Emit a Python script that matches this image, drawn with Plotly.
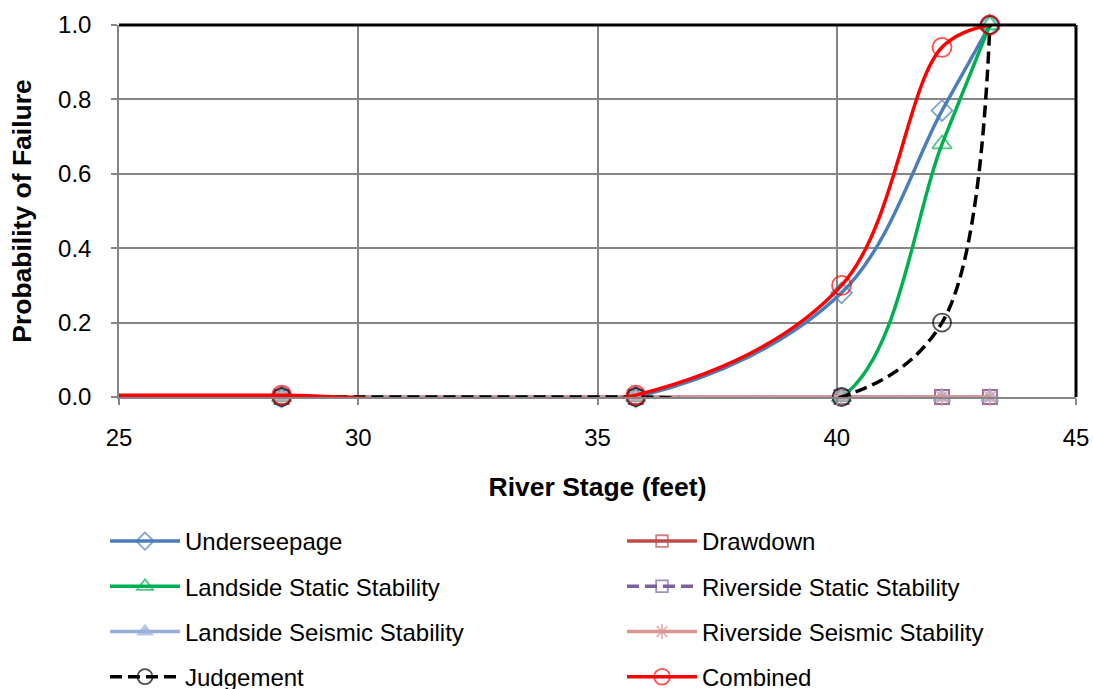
import plotly.graph_objects as go

# ---- data ----
river_stage = [22.0, 28.4, 35.8, 40.1, 42.2, 43.2]
underseepage = [0.0, 0.0, 0.0, 0.28, 0.77, 1.0]
drawdown = [0.0, 0.0, 0.0, 0.0, 0.0, 0.0]
landside_static = [0.0, 0.0, 0.0, 0.0, 0.68, 1.0]
riverside_static = [0.0, 0.0, 0.0, 0.0, 0.0, 0.0]
landside_seismic = [0.0, 0.0, 0.0, 0.0, 0.0, 0.0]
riverside_seismic = [0.0, 0.0, 0.0, 0.0, 0.0, 0.0]
judgement = [0.0, 0.0, 0.0, 0.0, 0.20, 1.0]
combined = [0.005, 0.005, 0.005, 0.30, 0.94, 1.0]

x_ticks = [25, 30, 35, 40, 45]
y_ticks = [0.0, 0.2, 0.4, 0.6, 0.8, 1.0]

FONT = "Liberation Sans, Arial, sans-serif"

series = [
    ("Underseepage", underseepage, "#4A7EBB", "solid", "diamond-open", "legend", 16),
    ("Drawdown", drawdown, "#BE4B48", "solid", "square-open", "legend2", 14),
    ("Landside Static Stability", landside_static, "#00B050", "solid", "triangle-up-open", "legend", 17),
    ("Riverside Static Stability", riverside_static, "#7D60A0", "12px,6px", "square-open", "legend2", 14),
    ("Landside Seismic Stability", landside_seismic, "#98B0D8", "solid", "triangle-up", "legend", 15),
    ("Riverside Seismic Stability", riverside_seismic, "#D99694", "solid", "asterisk-open", "legend2", 15),
    ("Judgement", judgement, "#000000", "12px,6px", "circle-open", "legend", 18),
    ("Combined", combined, "#FF0000", "solid", "circle-open", "legend2", 19),
]

fig = go.Figure()
for name, vals, color, dash, symbol, leg, msize in series:
    sizes = [0] + [msize] * (len(river_stage) - 1)
    fig.add_trace(go.Scatter(
        x=river_stage, y=vals, name=name, mode="lines+markers",
        line=dict(color=color, width=3.5, dash=dash, shape="spline", smoothing=1.0),
        marker=dict(symbol=symbol, size=sizes, color=color, line=dict(color=color, width=1.8)),
        legend=leg, legendgroup=name, cliponaxis=False,
    ))

W, H = 1093, 689
L, T, R, B = 119, 25, 17, 292
PH = H - T - B  # 372
PW = W - L - R  # 957
leg_y = (PH + T - 519) / PH

fig.update_layout(
    width=W, height=H,
    margin=dict(l=L, r=R, t=T, b=B, autoexpand=False),
    paper_bgcolor="white", plot_bgcolor="white",
    font=dict(family=FONT, size=24, color="black"),
    showlegend=True,
    xaxis=dict(
        range=[25, 45], tickvals=x_ticks, ticktext=[str(v) for v in x_ticks],
        showgrid=True, gridcolor="#868686", gridwidth=1.5,
        showline=True, linecolor="#868686", linewidth=1.5,
        ticks="outside", ticklen=6, tickcolor="#868686", tickwidth=1.5,
        ticklabelstandoff=12,
        zeroline=False,
        title=dict(text="<b>River Stage (feet)</b>", font=dict(size=26.5), standoff=28),
        tickfont=dict(size=24),
    ),
    yaxis=dict(
        range=[0, 1], tickvals=y_ticks, ticktext=[f"{v:.1f}" for v in y_ticks],
        showgrid=True, gridcolor="#868686", gridwidth=1.5,
        showline=True, linecolor="#868686", linewidth=1.5,
        ticks="outside", ticklen=6, tickcolor="#868686", tickwidth=1.5,
        ticklabelstandoff=15,
        zeroline=False,
        title=dict(text="<b>Probability of Failure</b>", font=dict(size=26.5), standoff=19),
        tickfont=dict(size=24),
    ),
    legend=dict(
        x=(105 - L) / PW, xanchor="left", y=leg_y, yanchor="top",
        orientation="v", traceorder="grouped", tracegroupgap=11,
        font=dict(size=24), itemwidth=70, bgcolor="rgba(0,0,0,0)",
    ),
    legend2=dict(
        x=(622 - L) / PW, xanchor="left", y=leg_y, yanchor="top",
        orientation="v", traceorder="grouped", tracegroupgap=11,
        font=dict(size=24), itemwidth=70, bgcolor="rgba(0,0,0,0)",
    ),
)

# black frame on top and right of plot area
fig.add_shape(type="line", xref="paper", yref="paper", x0=0, x1=1, y0=1, y1=1,
              line=dict(color="black", width=3))
fig.add_shape(type="line", xref="paper", yref="paper", x0=1, x1=1, y0=0, y1=1,
              line=dict(color="black", width=3))

fig.write_html("out.html",
               config={"displayModeBar": False},
               post_script="document.body.style.margin='0';document.body.style.overflow='hidden';")
